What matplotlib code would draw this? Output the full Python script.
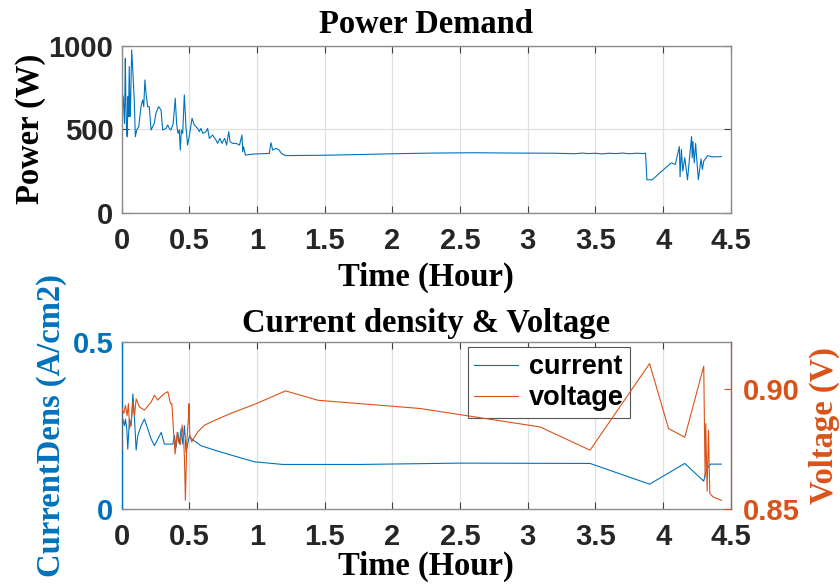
import matplotlib
matplotlib.use("Agg")
import matplotlib.pyplot as plt

# power demand (W) vs time (hour)
p_time = [0.0, 0.01, 0.02, 0.026, 0.03, 0.035, 0.04, 0.045, 0.05, 0.055, 0.06, 0.065,
          0.073, 0.08, 0.087, 0.092, 0.1, 0.11, 0.125, 0.142, 0.154, 0.162, 0.171, 0.179,
          0.191, 0.203, 0.216, 0.228, 0.24, 0.252, 0.272, 0.29, 0.302, 0.327, 0.339, 0.351,
          0.363, 0.38, 0.395, 0.405, 0.415, 0.425, 0.432, 0.44, 0.45, 0.462, 0.474, 0.486,
          0.498, 0.519, 0.536, 0.548, 0.56, 0.573, 0.585, 0.598, 0.622, 0.634, 0.647, 0.671,
          0.696, 0.708, 0.725, 0.74, 0.76, 0.775, 0.79, 0.8, 0.82, 0.845, 0.87, 0.888,
          0.893, 0.9, 0.913, 0.97, 1.09, 1.102, 1.115, 1.14, 1.16, 1.18, 1.2, 1.22,
          1.5, 1.8, 2.0, 2.3, 2.6, 2.9, 3.2, 3.35, 3.4, 3.45, 3.5, 3.55, 3.6, 3.65, 3.7,
          3.75, 3.8, 3.85, 3.87, 3.88, 3.92, 3.96, 4.0, 4.06, 4.09, 4.12, 4.125, 4.135,
          4.145, 4.16, 4.18, 4.21, 4.215, 4.22, 4.23, 4.24, 4.26, 4.28, 4.29, 4.3, 4.33,
          4.36, 4.43]
p_watt = [716, 696, 536, 926, 676, 496, 456, 696, 576, 876, 576, 656,
          976, 876, 756, 676, 456, 496, 516, 636, 676, 636, 796, 716,
          636, 636, 496, 516, 536, 596, 636, 616, 496, 506, 526, 506,
          496, 536, 686, 536, 476, 496, 376, 496, 476, 706, 516, 406,
          456, 566, 526, 516, 506, 486, 506, 476, 486, 506, 446, 466,
          436, 416, 446, 416, 446, 406, 486, 426, 416, 416, 406, 466,
          366, 396, 346, 352, 356, 420, 376, 386, 378, 356, 346, 343,
          345, 350, 354, 358, 360, 358, 357, 354, 358, 355, 357, 353, 357, 355, 358,
          354, 357, 355, 357, 198, 198, 228, 257, 299, 290, 397, 216, 380,
          250, 330, 198, 457, 330, 427, 300, 416, 198, 323, 260, 310, 343,
          335, 337]

# current density (A/cm2) vs time
i_time = [0.0, 0.0, 0.02, 0.027, 0.037, 0.044, 0.057, 0.069, 0.082, 0.094, 0.106, 0.118,
          0.143, 0.167, 0.192, 0.217, 0.241, 0.266, 0.291, 0.315, 0.377, 0.389, 0.401,
          0.414, 0.426, 0.438, 0.451, 0.463, 0.475, 0.487, 0.5, 0.517, 0.586, 0.685,
          0.808, 0.98, 1.19, 1.76, 2.5, 3.46, 3.9, 4.16, 4.30, 4.32, 4.35, 4.43]
i_dens = [0.466, 0.28, 0.25, 0.27, 0.24, 0.18, 0.27, 0.25, 0.345, 0.27, 0.177, 0.22,
          0.25, 0.27, 0.24, 0.21, 0.19, 0.21, 0.23, 0.195, 0.195, 0.22, 0.185,
          0.23, 0.195, 0.24, 0.195, 0.25, 0.17, 0.195, 0.22, 0.21, 0.19, 0.177,
          0.162, 0.142, 0.134, 0.134, 0.138, 0.137, 0.075, 0.137, 0.084, 0.12, 0.135, 0.135]

# voltage (V) vs time
v_time = [0.0, 0.0, 0.015, 0.027, 0.039, 0.049, 0.057, 0.069, 0.082, 0.094, 0.106, 0.131,
          0.167, 0.192, 0.217, 0.241, 0.266, 0.291, 0.315, 0.34, 0.36, 0.37, 0.384, 0.394,
          0.409, 0.421, 0.433, 0.446, 0.458, 0.463, 0.47, 0.48, 0.492, 0.497, 0.502, 0.517,
          0.536, 0.561, 0.61, 0.685, 0.808, 0.98, 1.21, 1.45, 2.2, 3.09, 3.46, 3.9, 4.04,
          4.16, 4.30, 4.31, 4.315, 4.325, 4.335, 4.345, 4.37, 4.43]
v_volt = [0.8746, 0.892, 0.890, 0.8933, 0.889, 0.894, 0.8836, 0.886, 0.8947, 0.889, 0.896, 0.8926,
          0.8913, 0.893, 0.8947, 0.8975, 0.8955, 0.897, 0.8982, 0.899, 0.894, 0.894, 0.8808, 0.873,
          0.882, 0.878, 0.877, 0.885, 0.8779, 0.871, 0.8537, 0.878, 0.8878, 0.894, 0.881, 0.878,
          0.880, 0.8822, 0.885, 0.887, 0.890, 0.8937, 0.8993, 0.8954, 0.892, 0.8843, 0.8746, 0.9107, 0.8836,
          0.880, 0.9096, 0.8635, 0.8857, 0.8575, 0.8829, 0.8565, 0.8551, 0.8537]

xticks = [0, 0.5, 1, 1.5, 2, 2.5, 3, 3.5, 4, 4.5]
xlabels = ['0', '0.5', '1', '1.5', '2', '2.5', '3', '3.5', '4', '4.5']

blue = '#0072BD'
orange = '#D95319'
edge = '#8c8c8c'
serif = 'Liberation Serif'
sans = 'Liberation Sans'
TICK = 21
LAB = 23.5

fig = plt.figure(figsize=(8.4, 5.88), dpi=100)
ax1 = fig.add_axes([0.145, 0.638, 0.725, 0.284])
ax2 = fig.add_axes([0.145, 0.134, 0.725, 0.284])


def style(ax):
    ax.set_xlim(0, 4.5)
    ax.set_xticks(xticks)
    ax.set_xticklabels(xlabels, fontfamily=sans, fontweight='bold', fontsize=TICK, color='#262626')
    ax.tick_params(direction='in', length=5, width=0.8, top=True, color='#404040', pad=10)
    ax.grid(True, axis='x', color='#e0e0e0', linewidth=0.9)
    ax.set_axisbelow(True)
    for s in ax.spines.values():
        s.set_color(edge)
        s.set_linewidth(1.0)


# top: power demand
ax1.plot(p_time, p_watt, color=blue, linewidth=0.8)
style(ax1)
ax1.set_ylim(0, 1000)
ax1.set_yticks([0, 500, 1000])
ax1.set_yticklabels(['0', '500', '1000'], fontfamily=sans, fontweight='bold', fontsize=TICK, color='#262626')
ax1.tick_params(axis='y', right=True, pad=6)
ax1.grid(True, axis='y', color='#e0e0e0', linewidth=0.9)
ax1.set_title('Power Demand', fontfamily=serif, fontweight='bold', fontsize=LAB, pad=9)
ax1.set_xlabel('Time (Hour)', fontfamily=serif, fontweight='bold', fontsize=LAB, labelpad=5)
ax1.set_ylabel('Power (W)', fontfamily=serif, fontweight='bold', fontsize=LAB, labelpad=2)

# bottom: current density & voltage
l1, = ax2.plot(i_time, i_dens, color=blue, linewidth=0.8, label='current')
style(ax2)
ax2.set_ylim(0, 0.5)
ax2.set_yticks([0, 0.5])
ax2.set_yticklabels(['0', '0.5'], fontfamily=sans, fontweight='bold', fontsize=TICK, color=blue)
ax2.tick_params(axis='y', colors=blue, pad=6)
ax2.spines['left'].set_color(blue)
ax2.set_title('Current density & Voltage', fontfamily=serif, fontweight='bold', fontsize=LAB, pad=7)
ax2.set_xlabel('Time (Hour)', fontfamily=serif, fontweight='bold', fontsize=LAB, labelpad=0)
ax2.set_ylabel('CurrentDens (A/cm2)', fontfamily=serif, fontweight='bold', fontsize=LAB,
               color=blue, labelpad=4)

ax3 = ax2.twinx()
l2, = ax3.plot(v_time, v_volt, color=orange, linewidth=0.8, label='voltage')
ax3.set_ylim(0.85, 0.9196)
ax3.set_yticks([0.85, 0.90])
ax3.set_yticklabels(['0.85', '0.90'], fontfamily=sans, fontweight='bold', fontsize=TICK, color=orange)
ax3.tick_params(axis='y', direction='in', length=5, colors=orange, pad=9)
for s in ax3.spines.values():
    s.set_visible(False)
ax3.spines['right'].set_visible(True)
ax3.spines['right'].set_color(orange)
ax3.set_ylabel('Voltage (V)', fontfamily=serif, fontweight='bold', fontsize=LAB,
               color=orange, labelpad=6)

leg = ax2.legend(handles=[l1, l2], loc='upper left', bbox_to_anchor=(0.568, 0.97),
                 prop={'family': sans, 'weight': 'bold', 'size': 19.5},
                 fancybox=False, framealpha=1, edgecolor='#555555',
                 handlelength=1.6, borderpad=0.25, labelspacing=0.2, handletextpad=0.4,
                 borderaxespad=0)
leg.get_frame().set_linewidth(0.8)

fig.savefig('out.png', dpi=100)
